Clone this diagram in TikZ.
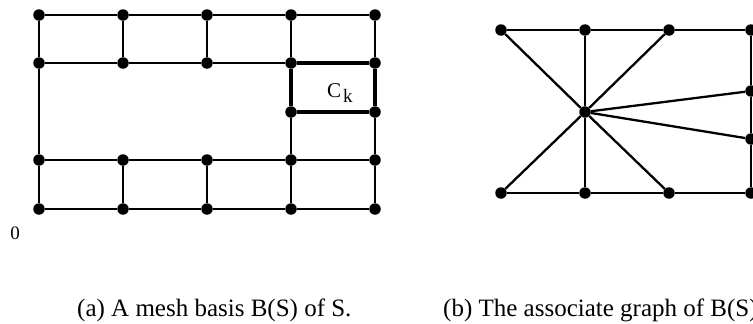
\documentclass[tikz,border=0pt]{standalone}
\usepackage{fontspec}
\setmainfont{Liberation Serif}
\begin{document}
\begin{tikzpicture}[x=1pt,y=-1pt,
  dot/.style={circle,fill=black,inner sep=0pt,minimum size=11.5pt},
  edge/.style={line width=2.3pt},
  thickedge/.style={line width=3.6pt},
  lbl/.style={inner sep=0pt}]
\clip (0,0) rectangle (753,324);
\fill[white] (0,0) rectangle (753,324);
% left mesh
\foreach \c/\x in {1/39,2/123,3/207,4/291,5/375}{
  \node[dot] (a1\c) at (\x,15) {};
  \node[dot] (a2\c) at (\x,63) {};
  \node[dot] (a4\c) at (\x,160) {};
  \node[dot] (a5\c) at (\x,209) {};
}
\node[dot] (a34) at (291,112) {};
\node[dot] (a35) at (375,112) {};
\draw[edge] (a11)--(a12)--(a13)--(a14)--(a15);
\draw[edge] (a21)--(a22)--(a23)--(a24);
\draw[edge] (a41)--(a42)--(a43)--(a44)--(a45);
\draw[edge] (a51)--(a52)--(a53)--(a54)--(a55);
\foreach \c in {1,...,5}{
  \draw[edge] (a1\c)--(a2\c);
  \draw[edge] (a4\c)--(a5\c);
}
\draw[edge] (a21)--(a41);
\draw[edge] (a34)--(a44);
\draw[edge] (a35)--(a45);
\draw[thickedge] (a24)--(a25);
\draw[thickedge] (a25)--(a35);
\draw[thickedge] (a35)--(a34);
\draw[thickedge] (a34)--(a24);
\node[lbl,anchor=base west] (ck) at (327,97) {\fontsize{21}{21}\selectfont C\hspace{2pt}\raisebox{-5pt}{\fontsize{19}{19}\selectfont k}};
\node[lbl] (zero) at (15,233) {\fontsize{19}{19}\selectfont 0};
% right graph
\node[dot] (t1) at (501,30) {};
\node[dot] (t2) at (585,30) {};
\node[dot] (t3) at (669,30) {};
\node[dot] (t4) at (751,30) {};
\node[dot] (c) at (585,112) {};
\node[dot] (m1) at (751,91) {};
\node[dot] (m2) at (751,139) {};
\node[dot] (b1) at (501,193) {};
\node[dot] (b2) at (585,193) {};
\node[dot] (b3) at (669,193) {};
\node[dot] (b4) at (751,193) {};
\draw[edge] (t1)--(t2)--(t3)--(t4)--(m1)--(m2)--(b4)--(b3)--(b2)--(b1);
\foreach \n in {t1,t2,t3,b1,b2,b3,m1,m2}{
  \draw[edge] (c)--(\n);
}
% captions
\node[lbl,anchor=base west] (capa) at (77,316) {\fontsize{25}{25}\selectfont (a) A mesh basis B(S) of S.};
\node[lbl,anchor=base west] (capb) at (443,316) {\fontsize{25}{25}\selectfont (b) The associate graph of B(S)};
\end{tikzpicture}
\end{document}
